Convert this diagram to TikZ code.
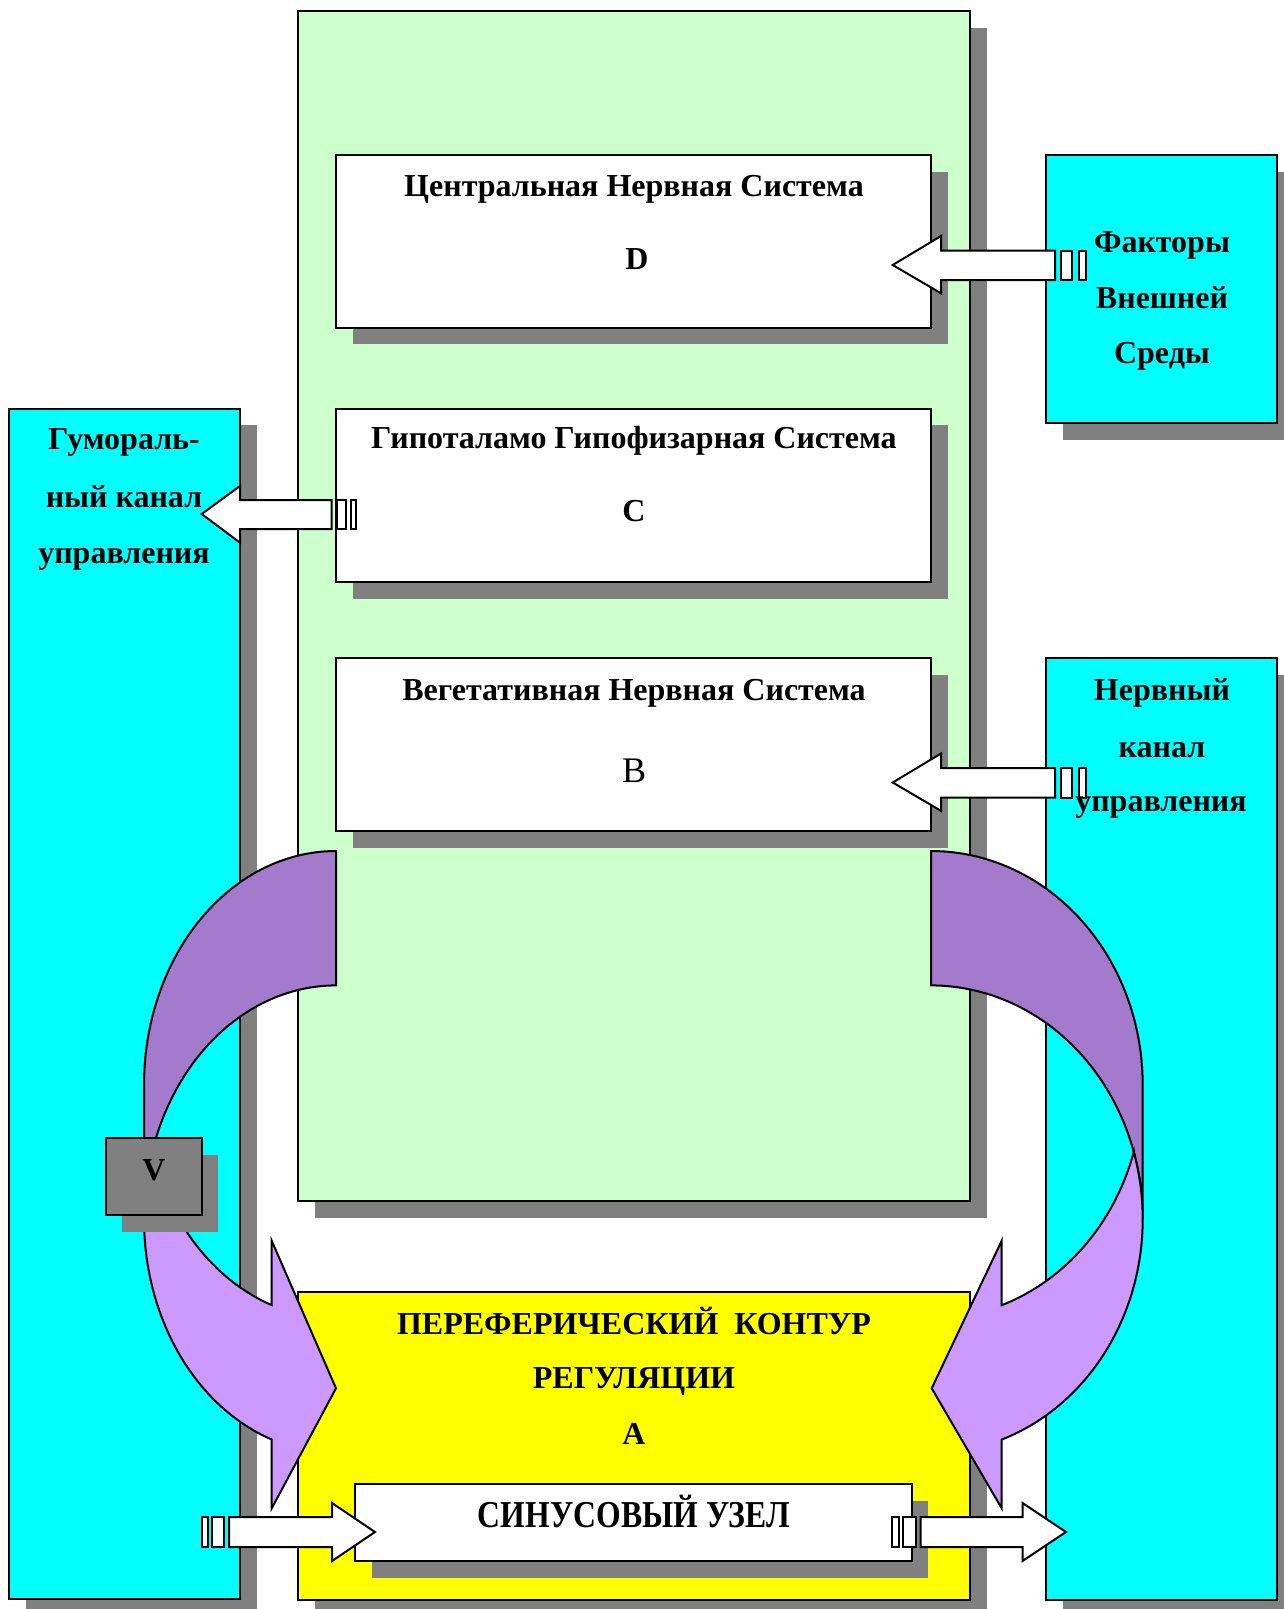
\documentclass[tikz,border=0pt]{standalone}
\usepackage{fontspec}
\setmainfont{Liberation Serif}
\usetikzlibrary{shadows}
\definecolor{mint}{HTML}{CCFFCC}
\definecolor{aqua}{HTML}{00FFFF}
\definecolor{lemon}{HTML}{FFFF00}
\definecolor{shade}{HTML}{808080}
\definecolor{plumdark}{HTML}{A37ACC}
\definecolor{plumlight}{HTML}{CC99FF}
\begin{document}
\begin{tikzpicture}[x=1pt,y=-1pt,
  panel/.style={draw=black, line width=2pt, inner sep=0pt, outer sep=0pt, anchor=north west,
    drop shadow={shadow xshift=16.5pt, shadow yshift=-16.5pt, fill=shade, opacity=1, draw=none}},
  blockarrow/.style={fill=white, draw=black, line width=2pt, line join=miter},
  curvedband/.style={draw=black, line width=2pt, line join=miter},
  lbl/.style={font=\fontsize{32}{38}\selectfont\bfseries, inner sep=0pt, anchor=base},
  bigletter/.style={font=\fontsize{36}{42}\selectfont, inner sep=0pt, anchor=base}]
\useasboundingbox (0,0) rectangle (1284,1609);
\clip (0,0) rectangle (1284,1609);

% main frame and level boxes
\node[panel, fill=mint, minimum width=672pt, minimum height=1190pt] (frame) at (298,11) {};
\node[panel, fill=white, minimum width=595pt, minimum height=172.5pt] (cns) at (336,155) {};
\node[panel, fill=white, minimum width=595pt, minimum height=173.5pt] (hyp) at (336,408.5) {};
\node[panel, fill=white, minimum width=595pt, minimum height=173pt] (veg) at (336,658) {};

% side channels
\node[panel, fill=aqua, minimum width=231pt, minimum height=268pt] (env) at (1046,155) {};
\node[panel, fill=aqua, minimum width=231pt, minimum height=942pt] (nerv) at (1046,658) {};
\node[panel, fill=aqua, minimum width=231pt, minimum height=1190.5pt] (hum) at (9,408.5) {};

% peripheral contour
\node[panel, fill=lemon, minimum width=672pt, minimum height=307.5pt] (per) at (298,1292) {};

% curved arrows: right
\filldraw[curvedband, fill=plumdark]
  plot[domain=-90:0, samples=60] ({931+211.7*cos(\x)}, {1084.8+233.8*sin(\x)})
  -- (1142.7,1219.2)
  -- plot[domain=0:-90, samples=60] ({931+211.7*cos(\x)}, {1219.2+233.8*sin(\x)})
  -- cycle;
\filldraw[curvedband, fill=plumlight]
  plot[domain=-16.7:70.5, samples=60] ({931+211.7*cos(\x)}, {1219.2+233.8*sin(\x)})
  -- (1001.7,1508.3) -- (931.7,1388.3) -- (1001.7,1240.7)
  -- plot[domain=70.5:16.7, samples=60] ({931+211.7*cos(\x)}, {1084.8+233.8*sin(\x)})
  -- cycle;
% curved arrows: left
\filldraw[curvedband, fill=plumdark]
  plot[domain=-90:0, samples=60] ({336-192*cos(\x)}, {1084.8+233.8*sin(\x)})
  -- (144,1219.2)
  -- plot[domain=0:-90, samples=60] ({336-192*cos(\x)}, {1219.2+233.8*sin(\x)})
  -- cycle;
\filldraw[curvedband, fill=plumlight]
  plot[domain=-16.7:70.4, samples=60] ({336-192*cos(\x)}, {1219.2+233.8*sin(\x)})
  -- (271.7,1508.3) -- (336,1388.3) -- (271.7,1240.7)
  -- plot[domain=70.4:16.7, samples=60] ({336-192*cos(\x)}, {1084.8+233.8*sin(\x)})
  -- cycle;

% V box
\node[panel, fill=shade, minimum width=96pt, minimum height=77pt] (vbox) at (105.7,1138) {};

% sinus node
\node[panel, fill=white, minimum width=556.5pt, minimum height=77pt] (sin) at (355,1484) {};

% block arrows
\draw[blockarrow] (892.7,265) -- (941,236) -- (941,250.7) -- (1055,250.7) -- (1055,280) -- (941,280) -- (941,293.3) -- cycle;
\draw[blockarrow] (1061,250.7) rectangle (1071.7,280);
\draw[blockarrow] (1079,250.7) rectangle (1085.7,280);

\draw[blockarrow] (892.7,782.5) -- (941,753.5) -- (941,768.2) -- (1055,768.2) -- (1055,797.5) -- (941,797.5) -- (941,810.8) -- cycle;
\draw[blockarrow] (1061,768.2) rectangle (1071.7,797.5);
\draw[blockarrow] (1079,768.2) rectangle (1085.7,797.5);

\draw[blockarrow] (201.7,514) -- (240,486) -- (240,500) -- (331.7,500) -- (331.7,529) -- (240,529) -- (240,542.7) -- cycle;
\draw[blockarrow] (336.7,500) rectangle (345.7,529);
\draw[blockarrow] (350.7,500) rectangle (355.7,529);

\draw[blockarrow] (202,1517) rectangle (208,1547);
\draw[blockarrow] (212,1517) rectangle (224,1547);
\draw[blockarrow] (229,1517) -- (332,1517) -- (332,1503) -- (375,1532) -- (332,1561) -- (332,1547) -- (229,1547) -- cycle;

\draw[blockarrow] (892,1517) rectangle (898.5,1547);
\draw[blockarrow] (903,1517) rectangle (916,1547);
\draw[blockarrow] (920.5,1517) -- (1022.5,1517) -- (1022.5,1503) -- (1066,1532) -- (1022.5,1561) -- (1022.5,1547) -- (920.5,1547) -- cycle;

% texts
\node[lbl] (tcns) at (634,196.3) {Центральная Нервная Система};
\node[lbl] (td) at (637,269.2) {D};
\node[lbl] (thyp) at (634,448.8) {Гипоталамо Гипофизарная Система};
\node[lbl] (tc) at (634,521.7) {C};
\node[lbl] (tveg) at (634,700.2) {Вегетативная Нервная Система};
\node[bigletter] (tb) at (634,782) {B};

\node[lbl] (te1) at (1162,252.7) {Факторы};
\node[lbl] (te2) at (1162,308.2) {Внешней};
\node[lbl] (te3) at (1162,363.6) {Среды};

\node[lbl] (tn1) at (1162,700.3) {Нервный};
\node[lbl] (tn2) at (1162,757) {канал};
\node[lbl] (tn3) at (1161,811) {управления};

\node[lbl] (th1) at (124,449) {Гумораль-};
\node[lbl] (th2) at (124,507) {ный канал};
\node[lbl] (th3) at (124,563.7) {управления};

\node[lbl] (tp1) at (634,1334) {ПЕРЕФЕРИЧЕСКИЙ\ \ КОНТУР};
\node[lbl] (tp2) at (634,1388) {РЕГУЛЯЦИИ};
\node[lbl] (tp3) at (634,1444) {A};

\node[inner sep=0pt, anchor=base, font=\fontsize{38}{44}\selectfont\bfseries] (tsin) at (634,1527) {\scalebox{0.835}[1]{СИНУСОВЫЙ УЗЕЛ}};
\node[lbl] (tv) at (154,1180) {V};
\end{tikzpicture}
\end{document}
